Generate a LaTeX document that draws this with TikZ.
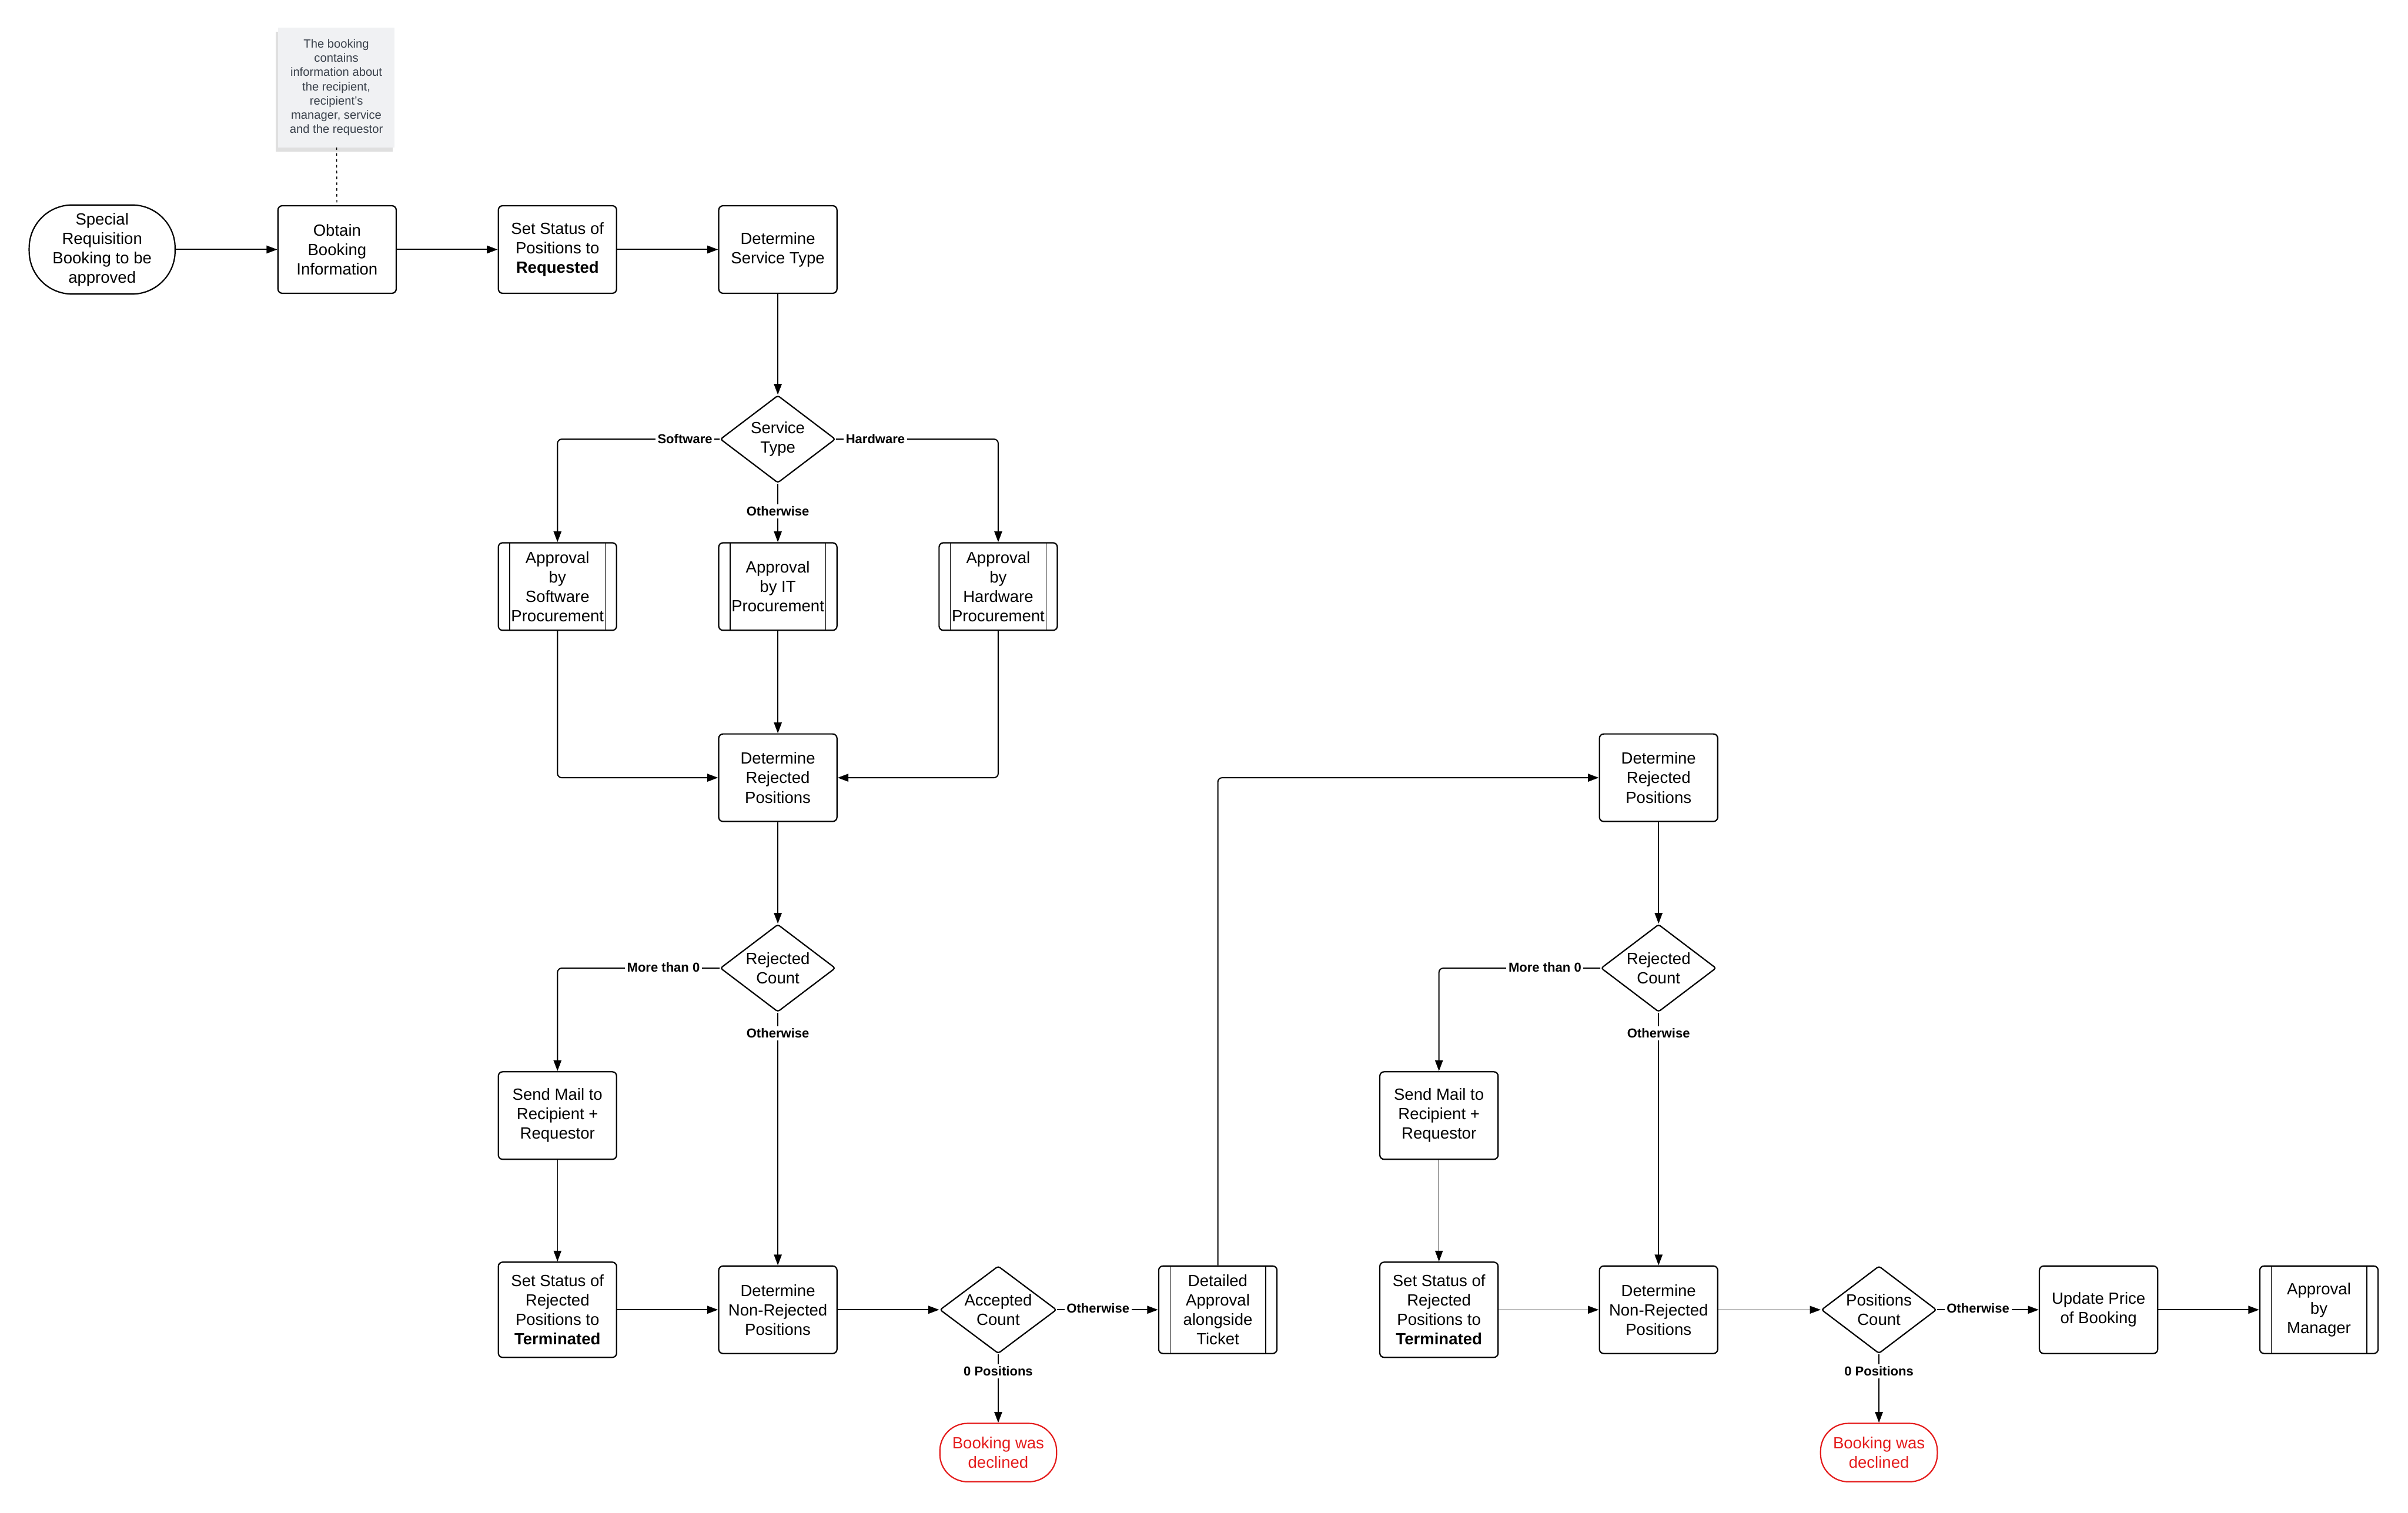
\documentclass[tikz,border=0pt]{standalone}
\usepackage{fontspec}
\setmainfont{Liberation Sans}
\usetikzlibrary{arrows.meta,shapes.geometric,shadows}
\definecolor{declred}{RGB}{228,28,28}
\definecolor{notefill}{RGB}{240,241,243}
\definecolor{notetext}{RGB}{58,65,75}
\tikzset{
  base/.style={font=\fontsize{7.5}{9}\selectfont, align=center, inner sep=0pt, line width=0.6pt},
  proc/.style={base, draw, rounded corners=2pt, minimum width=1.925cm, minimum height=1.425cm},
  subproc/.style={proc, path picture={
      \draw[line width=0.4pt] ([xshift=0.185cm]path picture bounding box.north west) -- ([xshift=0.185cm]path picture bounding box.south west);
      \draw[line width=0.4pt] ([xshift=-0.185cm]path picture bounding box.north east) -- ([xshift=-0.185cm]path picture bounding box.south east);}},
  decision/.style={base, draw, diamond, aspect=1.32, minimum width=1.875cm, minimum height=1.425cm, rounded corners=1pt},
  lbl/.style={font=\bfseries\fontsize{6}{7}\selectfont, fill=white, inner sep=1pt},
  arr/.style={-{Triangle[length=5pt,width=3.6pt]}, line width=0.55pt, rounded corners=2pt},
  thinarr/.style={arr, line width=0.35pt},
}
\begin{document}
\begin{tikzpicture}[x=0.025cm,y=-0.025cm]
\useasboundingbox (0,0) rectangle (1568,985);

% note
\node[base, fill=notefill, minimum width=1.9cm, minimum height=1.95cm, line width=0pt,
      drop shadow={shadow xshift=-1pt, shadow yshift=-2pt, opacity=0.25, fill=black!50},
      font=\fontsize{5.5}{6.6}\selectfont, text=notetext] (note) at (219,57)
  {The booking\\contains\\information about\\the recipient,\\recipient's\\manager, service\\and the requestor};

% top row
\node[base, draw, rounded corners=0.7cm, minimum width=2.375cm, minimum height=1.45cm] (start) at (66.5,162.5)
  {Special\\Requisition\\Booking to be\\approved};
\node[proc] (obtain) at (219.5,162.5) {Obtain\\Booking\\Information};
\node[proc] (setreq) at (363,162.5) {Set Status of\\Positions to\\\textbf{Requested}};
\node[proc] (dst) at (506.5,162.5) {Determine\\Service Type};

\node[decision] (stype) at (506.5,286) {Service\\Type};

\node[subproc] (apsw) at (363,382) {Approval\\by\\Software\\Procurement};
\node[subproc] (apit) at (506.5,382) {Approval\\by IT\\Procurement};
\node[subproc] (aphw) at (650,382) {Approval\\by\\Hardware\\Procurement};

\node[proc] (drp) at (506.5,506.5) {Determine\\Rejected\\Positions};
\node[decision] (rc1) at (506.5,630.5) {Rejected\\Count};
\node[proc] (sm1) at (363,726.5) {Send Mail to\\Recipient +\\Requestor};
\node[proc, minimum height=1.55cm] (ss1) at (363,853) {Set Status of\\Rejected\\Positions to\\\textbf{Terminated}};
\node[proc] (dnr1) at (506.5,853) {Determine\\Non-Rejected\\Positions};
\node[decision, minimum width=1.9cm] (ac) at (650,853) {Accepted\\Count};
\node[base, draw=declred, text=declred, rounded corners=0.45cm, minimum width=1.9cm, minimum height=0.95cm] (dec1) at (650,946)
  {Booking was\\declined};
\node[subproc] (da) at (793,853) {Detailed\\Approval\\alongside\\Ticket};

\node[proc] (drp2) at (1080,506.5) {Determine\\Rejected\\Positions};
\node[decision] (rc2) at (1080,630.5) {Rejected\\Count};
\node[proc] (sm2) at (937,726.5) {Send Mail to\\Recipient +\\Requestor};
\node[proc, minimum height=1.55cm] (ss2) at (937,853) {Set Status of\\Rejected\\Positions to\\\textbf{Terminated}};
\node[proc] (dnr2) at (1080,853) {Determine\\Non-Rejected\\Positions};
\node[decision] (pc) at (1223.5,853) {Positions\\Count};
\node[base, draw=declred, text=declred, rounded corners=0.45cm, minimum width=1.9cm, minimum height=0.95cm] (dec2) at (1223.5,946)
  {Booking was\\declined};
\node[proc] (upd) at (1366.5,853) {Update Price\\of Booking};
\node[subproc] (mgr) at (1510,853) {Approval\\by\\Manager};

% connectors
\draw[line width=0.4pt, dash pattern=on 1.2pt off 1.5pt] (note) -- (obtain);
\draw[arr] (start) -- (obtain);
\draw[arr] (obtain) -- (setreq);
\draw[arr] (setreq) -- (dst);
\draw[arr] (dst) -- (stype);
\draw[arr] (stype.west) -| (apsw);
\draw[arr] (stype.east) -| (aphw);
\draw[arr] (stype) -- (apit);
\draw[arr] (apsw) |- (drp);
\draw[arr] (aphw) |- (drp);
\draw[arr] (apit) -- (drp);
\draw[arr] (drp) -- (rc1);
\draw[arr] (rc1.west) -| (sm1);
\draw[arr] (rc1) -- (dnr1);
\draw[thinarr] (sm1) -- (ss1);
\draw[arr] (ss1) -- (dnr1);
\draw[arr] (dnr1) -- (ac);
\draw[arr] (ac) -- (da);
\draw[arr] (ac) -- (dec1);
\draw[arr] (da) |- (drp2);
\draw[arr] (drp2) -- (rc2);
\draw[arr] (rc2.west) -| (sm2);
\draw[arr] (rc2) -- (dnr2);
\draw[thinarr] (sm2) -- (ss2);
\draw[thinarr] (ss2) -- (dnr2);
\draw[thinarr] (dnr2) -- (pc);
\draw[arr] (pc) -- (upd);
\draw[arr] (pc) -- (dec2);
\draw[arr] (upd) -- (mgr);

% connector labels
\node[lbl] (l1) at (446,286) {Software};
\node[lbl] (l2) at (570,286) {Hardware};
\node[lbl] (l3) at (506.5,333) {Otherwise};
\node[lbl] (l4) at (432,630) {More than 0};
\node[lbl] (l5) at (506.5,673) {Otherwise};
\node[lbl] (l6) at (715,852) {Otherwise};
\node[lbl] (l7) at (650,893) {0 Positions};
\node[lbl] (l8) at (1006,630) {More than 0};
\node[lbl] (l9) at (1080,673) {Otherwise};
\node[lbl] (l10) at (1288,852) {Otherwise};
\node[lbl] (l11) at (1223.5,893) {0 Positions};
\end{tikzpicture}
\end{document}
